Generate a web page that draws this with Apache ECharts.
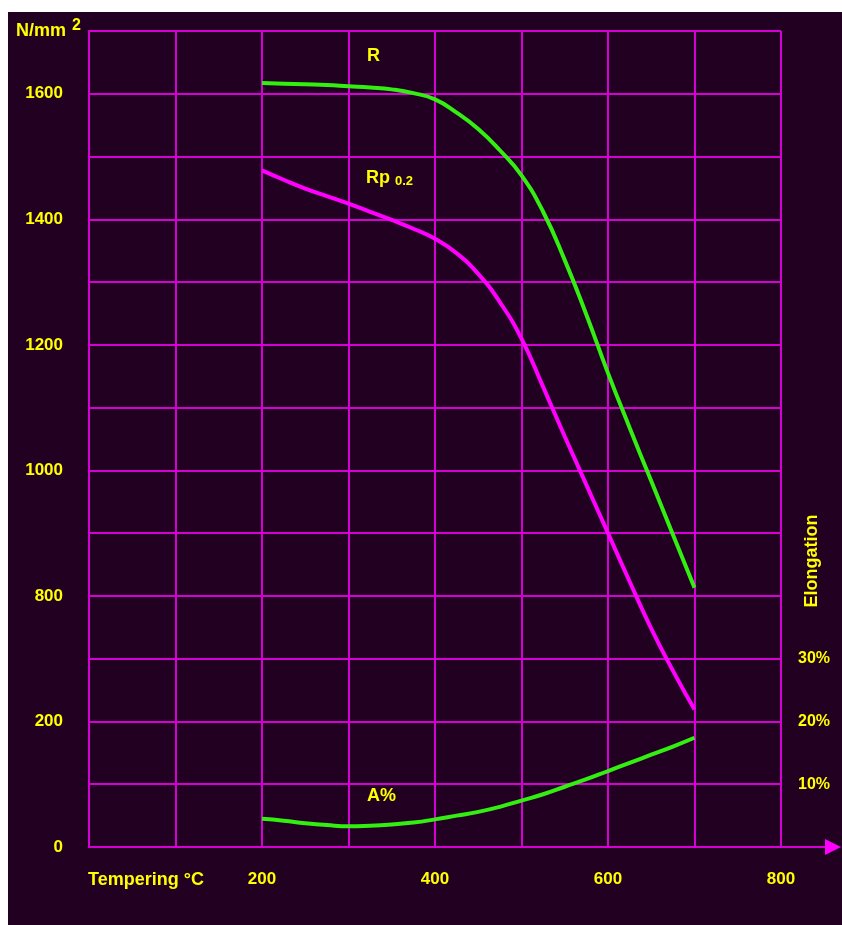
<!DOCTYPE html>
<html>
<head>
<meta charset="utf-8">
<title>Tempering chart</title>
<script src="https://cdn.jsdelivr.net/npm/echarts@6/dist/echarts.min.js"></script>
<style>
  html, body {
    margin: 0;
    padding: 0;
    background: #fff;
  }
  #myChart {
    position: absolute;
    left: 8px;
    top: 12px;
    width: 834px;
    height: 913px;
    background: #210021;
  }
</style>
</head>
<body>
<div id="myChart"></div>
<script>
// tempering temperature, °C
let temps = [200, 225, 250, 275, 300, 325, 350, 375, 400, 425, 450, 475, 500, 525, 550, 575, 600, 625, 650, 675, 700]
// tensile strength R, N/mm2
let strengthR = [1617, 1616, 1615, 1614, 1612, 1610, 1607, 1601, 1591, 1570, 1544, 1510, 1470, 1412, 1335, 1248, 1155, 1068, 983, 898, 813]
// yield strength Rp0.2, N/mm2
let yieldRp = [1478, 1463, 1449, 1437, 1425, 1412, 1399, 1385, 1369, 1346, 1313, 1268, 1210, 1133, 1054, 977, 900, 823, 748, 681, 619]
// elongation A, %
let elongA = [4.5, 4.2, 3.8, 3.5, 3.3, 3.4, 3.6, 3.9, 4.4, 5.0, 5.6, 6.4, 7.4, 8.4, 9.6, 10.8, 12.1, 13.4, 14.7, 16.0, 17.4]

// left axis labels as printed on the original (the bottom two are shifted)
let leftLabels = { 400: '0', 600: '200', 800: '800', 1000: '1000', 1200: '1200', 1400: '1400', 1600: '1600' }
let xLabels = [200, 400, 600, 800]
let rightLabels = [10, 20, 30]

let yellow = '#ffff00'
let gridColor = '#d400d4'
let font = 'Liberation Sans, Arial, sans-serif'

function pairs (ys) {
  return temps.map((t, i) => [t, ys[i]])
}

let myChart = echarts.init(document.getElementById('myChart'))

let option = {
  backgroundColor: '#210021',
  animation: false,
  textStyle: {
    fontFamily: font
  },
  grid: {
    left: 81,
    right: 61,
    top: 19,
    bottom: 78
  },
  xAxis: {
    type: 'value',
    min: 0,
    max: 800,
    interval: 100,
    axisLine: {
      show: true,
      lineStyle: { color: gridColor, width: 2 }
    },
    axisTick: { show: false },
    axisLabel: {
      margin: 24,
      color: yellow,
      fontWeight: 'bold',
      fontSize: 17,
      formatter: v => (xLabels.indexOf(v) >= 0 ? String(v) : '')
    },
    splitLine: {
      show: true,
      lineStyle: { color: gridColor, width: 2 }
    }
  },
  yAxis: [
    {
      type: 'value',
      min: 400,
      max: 1700,
      interval: 100,
      axisLine: {
        show: true,
        lineStyle: { color: gridColor, width: 2 }
      },
      axisTick: { show: false },
      axisLabel: {
        margin: 26,
        color: yellow,
        fontWeight: 'bold',
        fontSize: 17,
        formatter: v => leftLabels[v] || ''
      },
      splitLine: {
        show: true,
        lineStyle: { color: gridColor, width: 2 }
      }
    },
    {
      type: 'value',
      position: 'right',
      min: 0,
      max: 130,
      interval: 10,
      axisLine: { show: false },
      axisTick: { show: false },
      axisLabel: {
        margin: 17,
        color: yellow,
        fontWeight: 'bold',
        fontSize: 16,
        formatter: v => (rightLabels.indexOf(v) >= 0 ? v + '%' : '')
      },
      splitLine: { show: false }
    }
  ],
  series: [
    {
      name: 'R',
      type: 'line',
      smooth: true,
      symbol: 'none',
      data: pairs(strengthR),
      lineStyle: { color: '#33ee11', width: 4 }
    },
    {
      name: 'Rp0.2',
      type: 'line',
      smooth: true,
      symbol: 'none',
      data: pairs(yieldRp),
      lineStyle: { color: '#ff00ff', width: 4 }
    },
    {
      name: 'A%',
      type: 'line',
      yAxisIndex: 1,
      smooth: true,
      symbol: 'none',
      data: pairs(elongA),
      lineStyle: { color: '#33ee11', width: 4 }
    }
  ],
  graphic: [
    {
      type: 'text',
      left: 8,
      top: 10,
      style: { text: 'N/mm', fill: yellow, font: 'bold 18px ' + font }
    },
    {
      type: 'text',
      left: 64,
      top: 6,
      style: { text: '2', fill: yellow, font: 'bold 16px ' + font }
    },
    {
      type: 'text',
      left: 359,
      top: 35,
      style: { text: 'R', fill: yellow, font: 'bold 18px ' + font }
    },
    {
      type: 'text',
      left: 358,
      top: 157,
      style: { text: 'Rp', fill: yellow, font: 'bold 18px ' + font }
    },
    {
      type: 'text',
      left: 387,
      top: 163,
      style: { text: '0.2', fill: yellow, font: 'bold 13px ' + font }
    },
    {
      type: 'text',
      left: 359,
      top: 775,
      style: { text: 'A%', fill: yellow, font: 'bold 18px ' + font }
    },
    {
      type: 'text',
      left: 80,
      top: 859,
      style: { text: 'Tempering °C', fill: yellow, font: 'bold 18px ' + font }
    },
    {
      type: 'text',
      x: 804,
      y: 549,
      rotation: Math.PI / 2,
      style: {
        text: 'Elongation',
        fill: yellow,
        font: 'bold 18px ' + font,
        align: 'center',
        verticalAlign: 'middle'
      }
    },
    {
      type: 'line',
      shape: { x1: 772, y1: 835, x2: 818, y2: 835 },
      style: { stroke: gridColor, lineWidth: 2 }
    },
    {
      type: 'polygon',
      shape: { points: [[817, 827], [833, 835], [817, 843]] },
      style: { fill: '#ff00ff' }
    }
  ]
}

myChart.setOption(option, true)
</script>
</body>
</html>
